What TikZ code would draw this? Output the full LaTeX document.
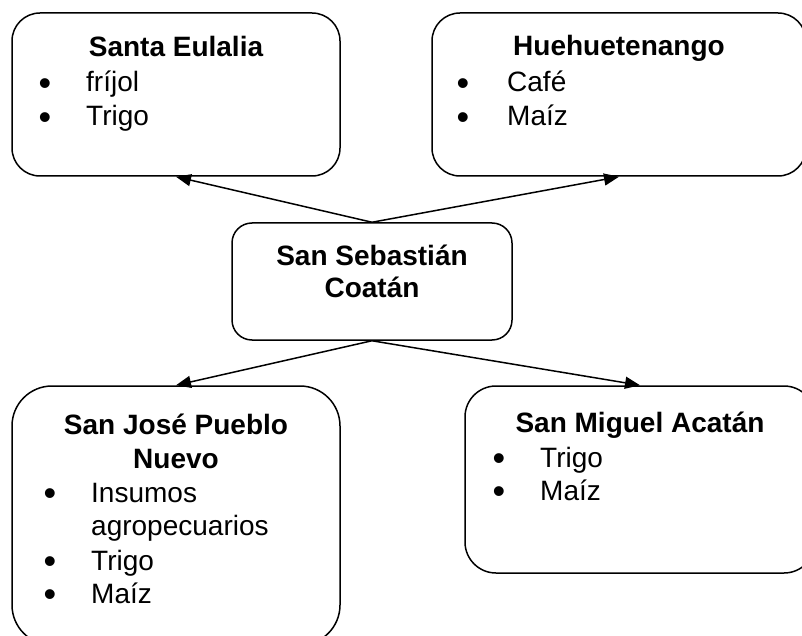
\documentclass[tikz,border=0pt]{standalone}
\usepackage{fontspec}
\setmainfont{Liberation Sans}
\usetikzlibrary{arrows.meta}
\tikzset{
  box/.style={draw, line width=1.5pt, inner sep=0pt},
  ttl/.style={font=\fontsize{28}{32}\selectfont\bfseries, anchor=base, inner sep=0pt},
  itm/.style={font=\fontsize{28}{32}\selectfont, anchor=base west, inner sep=0pt},
  bul/.style={font=\fontsize{36}{40}\selectfont, anchor=center, inner sep=0pt, yshift=-4pt},
  arr/.style={line width=1.5pt, -{Triangle[length=15pt,width=12pt]}}
}
\begin{document}
\begin{tikzpicture}[x=1pt,y=-1pt]
\useasboundingbox (0,0) rectangle (802,636);
% boxes
\node[box, rounded corners=28pt, minimum width=328pt, minimum height=163pt] (se) at (176,94.5) {};
\node[box, rounded corners=28pt, minimum width=374pt, minimum height=163pt] (hu) at (619,94.5) {};
\node[box, rounded corners=20pt, minimum width=280pt, minimum height=117pt] (cen) at (372,281.5) {};
\node[box, rounded corners=40pt, minimum width=328pt, minimum height=259pt] (sj) at (176,515.5) {};
\node[box, rounded corners=31pt, minimum width=350pt, minimum height=187pt] (sm) at (640,479.5) {};
% Santa Eulalia
\node[ttl] (se-t) at (176,57) {Santa Eulalia};
\node[bul] (se-b1) at (45,83) {•};
\node[itm] (se-i1) at (86,92) {fríjol};
\node[bul] (se-b2) at (45,117) {•};
\node[itm] (se-i2) at (86,126) {Trigo};
% Huehuetenango
\node[ttl] (hu-t) at (619,56) {Huehuetenango};
\node[bul] (hu-b1) at (463,83) {•};
\node[itm] (hu-i1) at (507,92) {Café};
\node[bul] (hu-b2) at (463,117) {•};
\node[itm] (hu-i2) at (507,126) {Maíz};
% center
\node[ttl] (cen-t1) at (372,265) {San Sebastián};
\node[ttl] (cen-t2) at (372,297) {Coatán};
% San Jose
\node[ttl] (sj-t1) at (176,434) {San José Pueblo};
\node[ttl] (sj-t2) at (176,468) {Nuevo};
\node[bul] (sj-b1) at (50,493) {•};
\node[itm] (sj-i1) at (91,502) {Insumos};
\node[itm] (sj-i1b) at (91,535) {agropecuarios};
\node[bul] (sj-b2) at (50,561) {•};
\node[itm] (sj-i2) at (91,570) {Trigo};
\node[bul] (sj-b3) at (50,594) {•};
\node[itm] (sj-i3) at (91,603) {Maíz};
% San Miguel
\node[ttl] (sm-t) at (640,432) {San Miguel Acatán};
\node[bul] (sm-b1) at (499,458) {•};
\node[itm] (sm-i1) at (540,467) {Trigo};
\node[bul] (sm-b2) at (499,491) {•};
\node[itm] (sm-i2) at (540,500) {Maíz};
% arrows
\draw[arr] (cen.north) -- (se.south);
\draw[arr] (cen.north) -- (hu.south);
\draw[arr] (cen.south) -- (sj.north);
\draw[arr] (cen.south) -- (sm.north);
\end{tikzpicture}
\end{document}
